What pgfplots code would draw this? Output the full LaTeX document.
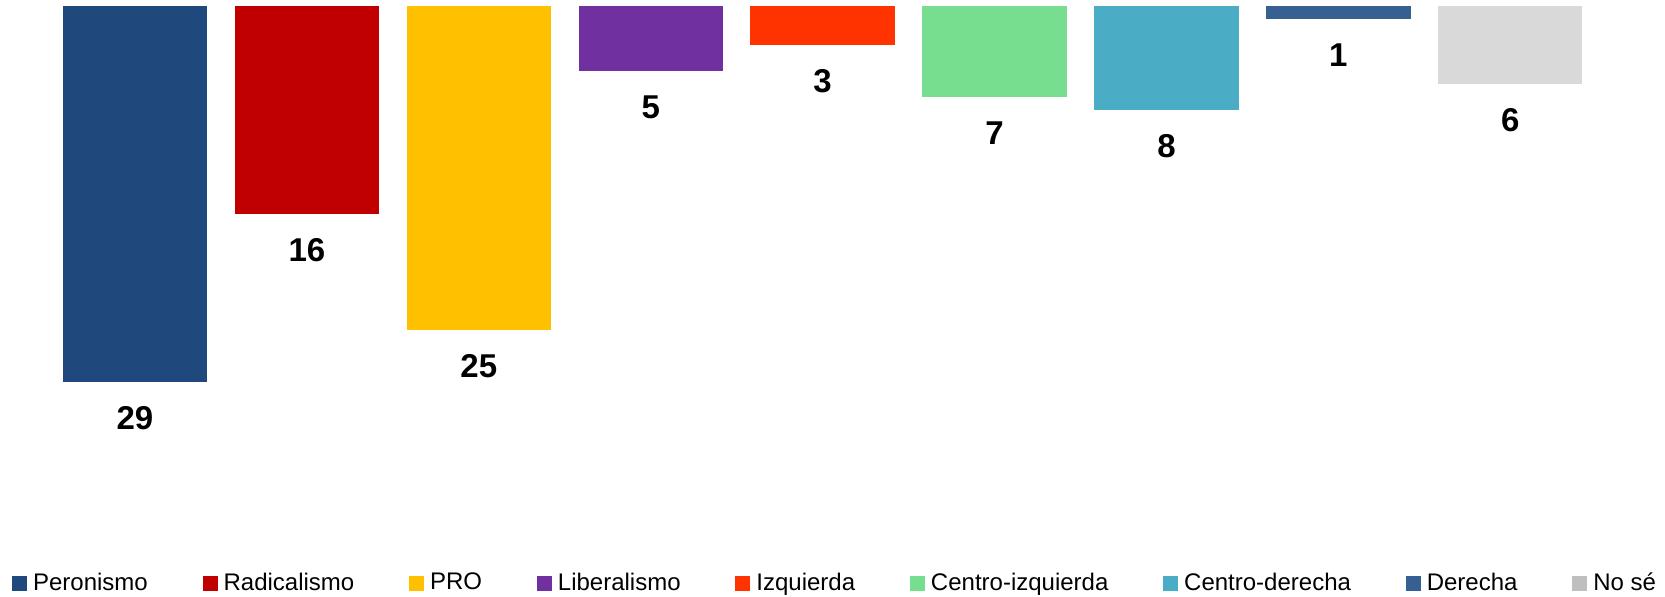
\documentclass[border=0pt]{standalone}
\usepackage{fontspec}
\setmainfont{Liberation Sans}
\usepackage{pgfplots}
\pgfplotsset{compat=1.18}

\definecolor{cPer}{HTML}{1F497D}
\definecolor{cRad}{HTML}{C00000}
\definecolor{cPro}{HTML}{FFC000}
\definecolor{cLib}{HTML}{7030A0}
\definecolor{cIzq}{HTML}{FF3300}
\definecolor{cCiz}{HTML}{77DD8F}
\definecolor{cCde}{HTML}{4BACC6}
\definecolor{cDer}{HTML}{366092}
\definecolor{cNos}{HTML}{D9D9D9}
\definecolor{cNosL}{HTML}{BFBFBF}

\begin{document}
\begin{tikzpicture}
\begin{axis}[
  scale only axis,
  width=832.5pt,
  height=298pt,
  xmin=-0.785, xmax=8.90,
  ymin=-0.494, ymax=45.49,
  y dir=reverse,
  axis lines=none,
  xtick=\empty, ytick=\empty,
  ybar, bar width=0.84, bar shift=0pt,
  clip=false,
  /pgf/number format/assume math mode=true,
  nodes near coords,
  every node near coord/.append style={anchor=center, yshift=-18pt,
    font=\fontsize{16.5pt}{20pt}\selectfont\bfseries, text=black},
  legend columns=9,
  legend style={at={(0.00703,0.0218)}, anchor=west, draw=none, fill=none,
    inner sep=0pt, font=\fontsize{12pt}{14pt}\selectfont,
    nodes={inner sep=0pt},
    /tikz/every odd column/.append style={column sep=3pt},
    /tikz/every even column/.append style={column sep=27.4pt}},
  legend image code/.code={\fill[#1] (0pt,-3.75pt) rectangle (7.5pt,3.75pt);},
  every axis plot/.append style={draw=none},
]
\addplot[fill=cPer] coordinates {(0,29)};
\addlegendentry{Peronismo}
\addplot[fill=cRad] coordinates {(1,16)};
\addlegendentry{Radicalismo}
\addplot[fill=cPro] coordinates {(2,25)};
\addlegendentry{PRO}
\addplot[fill=cLib] coordinates {(3,5)};
\addlegendentry{Liberalismo}
\addplot[fill=cIzq] coordinates {(4,3)};
\addlegendentry{Izquierda}
\addplot[fill=cCiz] coordinates {(5,7)};
\addlegendentry{Centro-izquierda}
\addplot[fill=cCde] coordinates {(6,8)};
\addlegendentry{Centro-derecha}
\addplot[fill=cDer] coordinates {(7,1)};
\addlegendentry{Derecha}
\addplot[fill=cNos, forget plot] coordinates {(8,6)};
\addlegendimage{fill=cNosL}
\addlegendentry{No sé}
\path (rel axis cs:0,0) rectangle (rel axis cs:1,1);
\end{axis}
\end{tikzpicture}
\end{document}
